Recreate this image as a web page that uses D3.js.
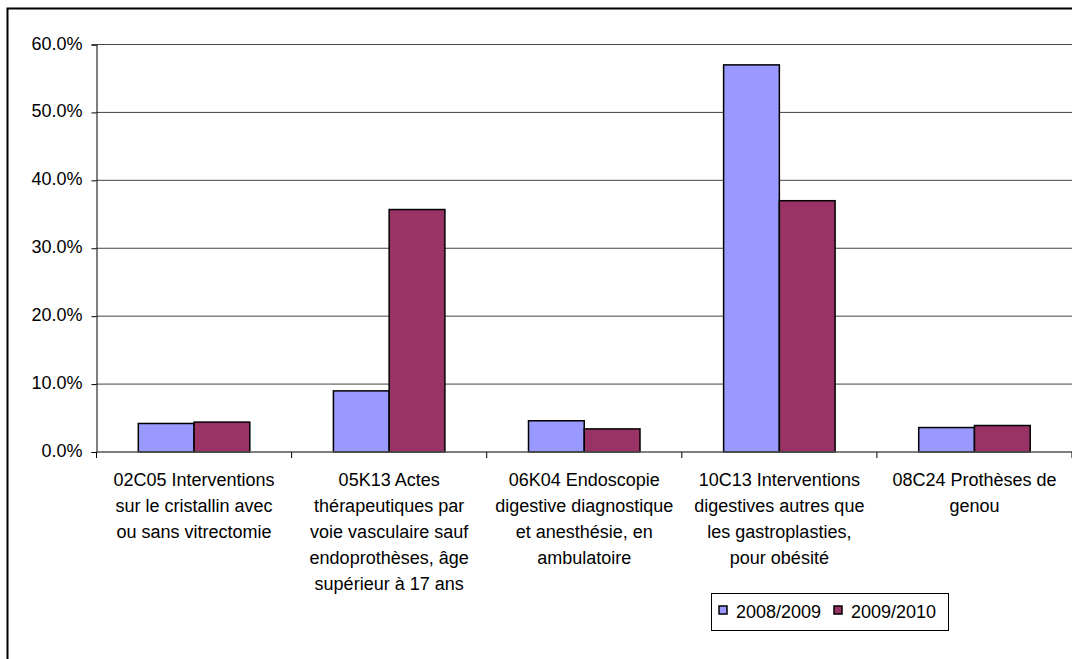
<!DOCTYPE html>
<html><head><meta charset="utf-8">
<script src="https://cdn.jsdelivr.net/npm/d3@7"></script>
<style>
html,body{margin:0;padding:0;background:#fff;}
svg text{font-family:"Liberation Sans",Arial,sans-serif;fill:#000;}
</style></head>
<body>
<script>
const categories = [
  "02C05 Interventions\nsur le cristallin avec\nou sans vitrectomie",
  "05K13 Actes\nthérapeutiques par\nvoie vasculaire sauf\nendoprothèses, âge\nsupérieur à 17 ans",
  "06K04 Endoscopie\ndigestive diagnostique\net anesthésie, en\nambulatoire",
  "10C13 Interventions\ndigestives autres que\nles gastroplasties,\npour obésité",
  "08C24 Prothèses de\ngenou"
];
const seriesNames = ["2008/2009", "2009/2010"];
const values2008 = [0.042, 0.090, 0.046, 0.570, 0.036];
const values2009 = [0.044, 0.357, 0.034, 0.370, 0.039];
const yTicks = [0, 0.1, 0.2, 0.3, 0.4, 0.5, 0.6];
const colors = ["#9999FF", "#993366"];

const W = 1072, H = 659;
const FS = "18px";
const svg = d3.select("body").append("svg").attr("width", W).attr("height", H);

// outer frame (partially cropped)
svg.append("path").attr("d", `M7.5,${H+5} V8.5 H${W+5}`).attr("fill","none").attr("stroke","#000").attr("stroke-width",2);

const pL = 96.5, pR = 1072, pT = 44.5, pB = 452;
const x = d3.scaleBand().domain(categories).range([pL, pR]).paddingInner(0).paddingOuter(0);
const y = d3.scaleLinear().domain([0, 0.6]).range([pB, pT]);
const barW = x.bandwidth() / 3.5;

// gridlines
svg.append("g").selectAll("line").data(yTicks.filter(d => d > 0)).join("line")
  .attr("x1", pL).attr("x2", pR).attr("y1", d => y(d)).attr("y2", d => y(d))
  .attr("stroke", "#444").attr("stroke-width", 1);

// y axis
const yAxis = d3.axisLeft(y).tickValues(yTicks).tickFormat(d3.format(".1%")).tickSize(5).tickPadding(9);
const gy = svg.append("g").attr("transform", `translate(${pL},0)`).call(yAxis);
gy.select(".domain").attr("stroke", "#000");
gy.selectAll(".tick line").attr("stroke", "#000");
gy.selectAll("text").attr("font-size", FS).attr("font-family", "Liberation Sans, Arial, sans-serif").attr("fill","#000").attr("dy","0.25em");

// bars
const series = [values2008, values2009];
series.forEach((vals, si) => {
  svg.append("g").selectAll("rect").data(vals).join("rect")
    .attr("x", (d, i) => x(categories[i]) + barW * 0.75 + si * barW)
    .attr("y", d => y(d))
    .attr("width", barW)
    .attr("height", d => y(0) - y(d))
    .attr("fill", colors[si]).attr("stroke", "#000").attr("stroke-width", 1.5);
});

// x axis
const boundaries = categories.map(c => x(c)).concat([pR]);
svg.append("line").attr("x1", pL).attr("x2", pR).attr("y1", pB).attr("y2", pB).attr("stroke", "#555").attr("stroke-width", 1.5);
svg.append("g").selectAll("line").data(boundaries).join("line")
  .attr("x1", d => d).attr("x2", d => d).attr("y1", pB).attr("y2", pB + 6)
  .attr("stroke", "#000");

// category labels
const lab = svg.append("g").selectAll("text").data(categories).join("text")
  .attr("text-anchor", "middle").attr("font-size", FS)
  .attr("transform", d => `translate(${x(d) + x.bandwidth() / 2},486)`);
lab.selectAll("tspan").data(d => d.split("\n")).join("tspan")
  .attr("x", 0).attr("y", (d, i) => i * 26).text(d => d);

// legend
const lg = svg.append("g");
lg.append("rect").attr("x", 711.5).attr("y", 593.5).attr("width", 237).attr("height", 37)
  .attr("fill", "#fff").attr("stroke", "#000").attr("stroke-width", 1);
const lx = [719, 834], tx = [736, 851];
seriesNames.forEach((n, i) => {
  lg.append("rect").attr("x", lx[i]).attr("y", 606).attr("width", 8).attr("height", 8)
    .attr("fill", colors[i]).attr("stroke", "#000").attr("stroke-width", 1.5);
  lg.append("text").attr("x", tx[i]).attr("y", 618).attr("font-size", FS).text(n);
});
</script>
</body></html>
